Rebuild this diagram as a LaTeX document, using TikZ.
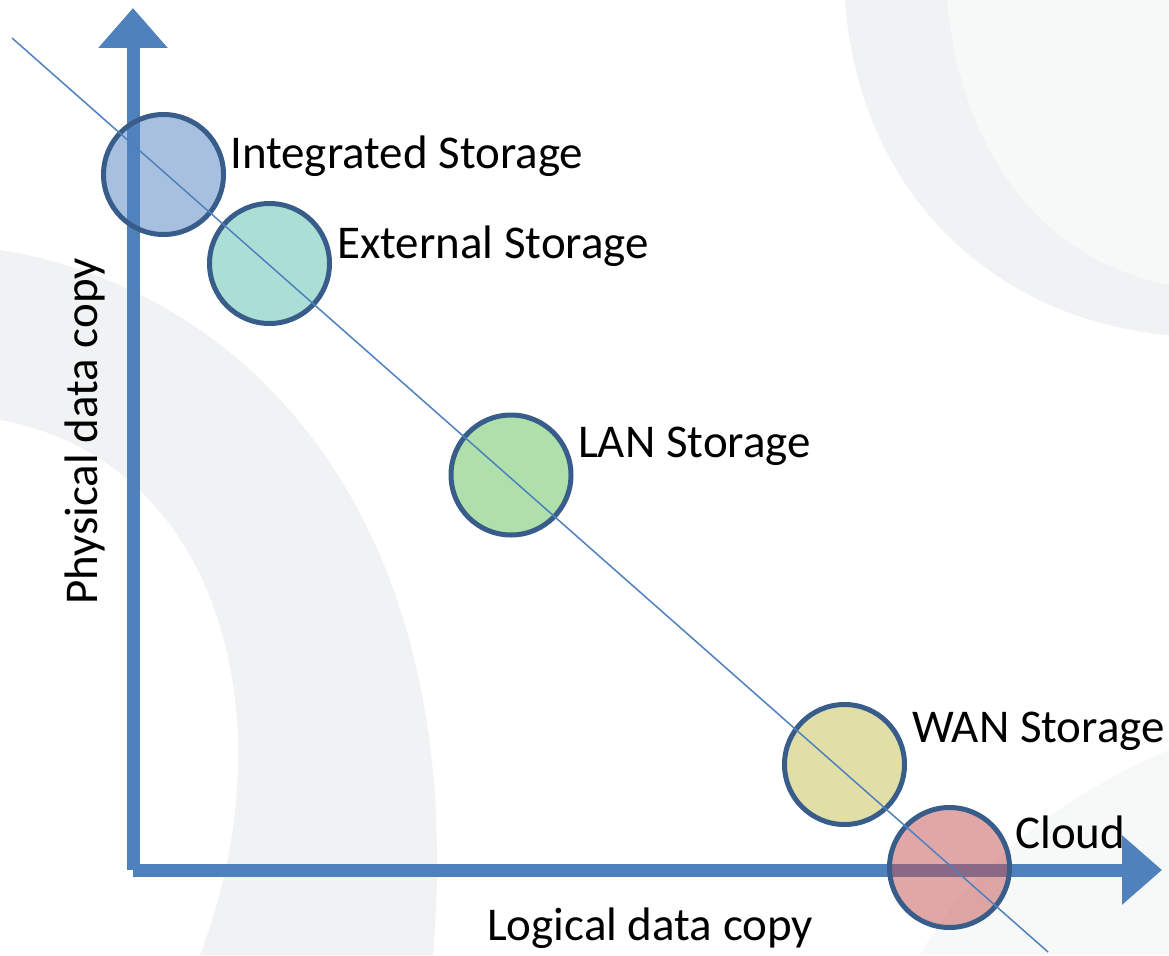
\documentclass[tikz,border=0pt]{standalone}
\usepackage{xcolor}
\usepackage{tikz}
\usepackage{fontspec}
\setmainfont{Carlito}
\usetikzlibrary{arrows.meta, positioning, calc}

\definecolor{axisblue}{RGB}{79,129,189}
\definecolor{edgeblue}{RGB}{56,93,138}
\definecolor{intcol}{RGB}{83,131,195}
\definecolor{extcol}{RGB}{89,193,175}
\definecolor{lancol}{RGB}{97,193,89}
\definecolor{wancol}{RGB}{197,191,81}
\definecolor{cloudcol}{RGB}{197,81,81}
\definecolor{wmark}{RGB}{240,242,243}
\definecolor{wmarklight}{RGB}{247,248,248}

\begin{document}
\begin{tikzpicture}[x=1pt, y=-1pt,
    store/.style={circle, draw=edgeblue, line width=5pt, minimum size=120pt, inner sep=0pt, fill opacity=0.5},
    tag/.style={anchor=base west, inner sep=0pt, font=\fontsize{47}{56}\selectfont},
    axis/.style={draw=axisblue, line width=13pt, -{Triangle[width=67pt, length=40pt]}}]
    \useasboundingbox (0,0) rectangle (1169,955);
    \fill[white] (0,0) rectangle (1169,955);

    % Background watermark
    \fill[wmarklight] (845,0) .. controls (860,200) and (1000,320) .. (1169,335) -- (1169,0) -- cycle;
    \fill[wmark] (845,0) .. controls (860,200) and (1000,320) .. (1169,335) -- (1169,285) .. controls (1040,260) and (960,150) .. (947,0) -- cycle;
    \fill[wmark] (0,250) .. controls (250,290) and (470,520) .. (433,955) -- (200,955) .. controls (290,720) and (220,460) .. (0,420) -- cycle;
    \fill[wmarklight] (1169,750) .. controls (1050,800) and (960,880) .. (920,955) -- (1169,955) -- cycle;

    % Axes
    \coordinate (origin) at (133,870);
    \coordinate (ytop) at (133,8);
    \coordinate (xend) at (1162,870);
    \draw[axis] (origin) -- (ytop);
    \draw[axis] (origin) -- (xend);

    % Storage circles
    \node (intstore) [store, fill=intcol] at (163.5,174.5) {};
    \node (extstore) [store, fill=extcol] at (269.5,263.5) {};
    \node (lanstore) [store, fill=lancol] at (511,475) {};
    \node (wanstore) [store, fill=wancol] at (844.5,764.5) {};
    \node (cloud) [store, fill=cloudcol] at (949.5,867.5) {};

    % Trend line
    \coordinate (dstart) at (12,38);
    \coordinate (dend) at (1048,952);
    \draw[axisblue, line width=1.5pt] (dstart) -- (dend);

    % Labels
    \node (inttag) [tag] at (230,168) {Integrated Storage};
    \node (exttag) [tag] at (337,258) {External Storage};
    \node (lantag) [tag] at (578,457) {LAN Storage};
    \node (wantag) [tag] at (912,742) {WAN Storage};
    \node (cloudtag) [tag] at (1015,848) {Cloud};
    \node (ylabel) [tag, rotate=90] at (97,605) {Physical data copy};
    \node (xlabel) [tag] at (487,940) {Logical data copy};
\end{tikzpicture}
\end{document}
